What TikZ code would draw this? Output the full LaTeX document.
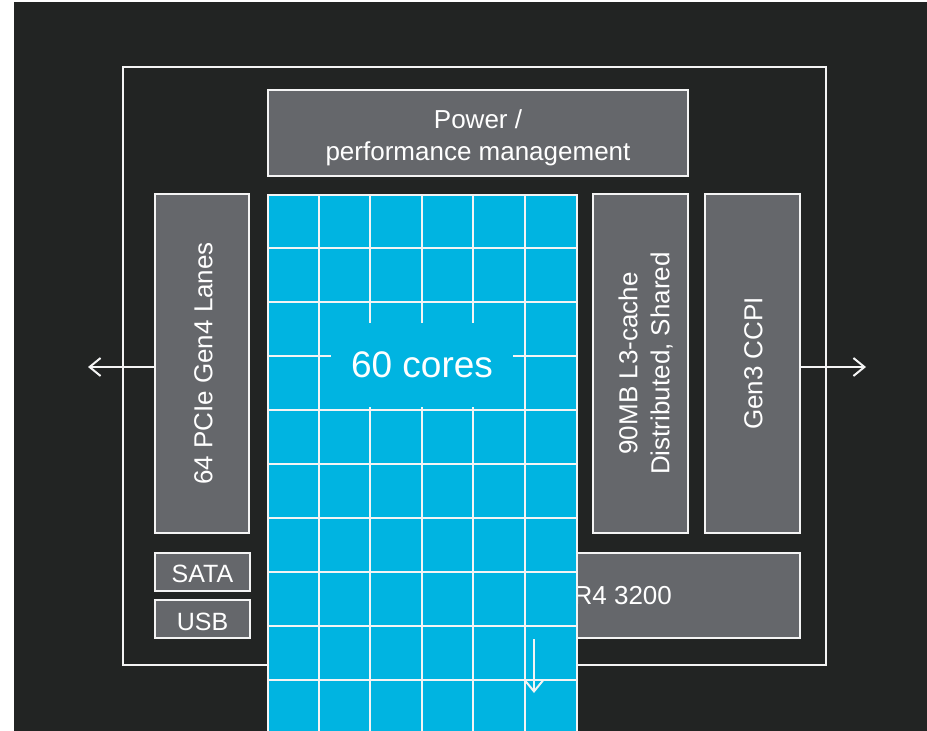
\documentclass[tikz,border=0pt]{standalone}
\usepackage{fontspec}
\usepackage{graphicx}
\setmainfont{Liberation Sans}
\usetikzlibrary{arrows.meta}
\definecolor{bgdark}{RGB}{34,36,35}
\definecolor{blockgrey}{RGB}{101,103,107}
\definecolor{coreblue}{RGB}{0,180,225}
\definecolor{lineclr}{RGB}{244,244,244}

\begin{document}
\begin{tikzpicture}[x=1pt,y=-1pt,
  block/.style={draw=lineclr, line width=2pt, fill=blockgrey, text=white,
    inner sep=0pt, align=center, font=\fontsize{26}{32}\selectfont},
  blocktext/.style={text=white, inner sep=0pt, align=center,
    font=\fontsize{26}{32}\selectfont},
  smallblock/.style={block, font=\fontsize{25}{30}\selectfont, text height=22pt},
  gridline/.style={draw=lineclr, line width=2pt},
  link/.style={draw=lineclr, line width=2pt,
    -{Straight Barb[length=11pt,width=18pt,line width=2pt]}}
]
\useasboundingbox (0,0) rectangle (927,731);
\fill[white] (0,0) rectangle (927,731);
\fill[bgdark] (14,2) rectangle (927,731);

% package outline
\draw[lineclr, line width=2pt] (123,67) rectangle (826,665);

% functional blocks
\node[block, minimum width=420pt, minimum height=85.5pt,
  label={[blocktext, yshift=-4.5pt]center:Power /\\performance management}]
  (power) at (478,133) {};
\node[block, minimum width=94pt, minimum height=339pt,
  label={[blocktext, xshift=1.5pt, rotate=90]center:64 PCIe Gen4 Lanes}]
  (pcie) at (202,363.5) {};
\node[block, minimum width=95pt, minimum height=339.5pt,
  label={[blocktext, xshift=5pt, rotate=90]center:90MB L3-cache\\Distributed, Shared}]
  (l3) at (640.5,363.5) {};
\node[block, minimum width=95pt, minimum height=339.5pt,
  label={[blocktext, xshift=1pt, rotate=90]center:Gen3 CCPI}]
  (ccpi) at (752.5,363.5) {};
\node[block, minimum width=392pt, minimum height=85pt] (ddr) at (604,595.5)
  {DDR4 3200};
\node[smallblock, minimum width=95pt, minimum height=38pt] (sata) at (202.5,572)
  {SATA};
\node[smallblock, minimum width=95pt, minimum height=38.5pt] (usb) at (202.5,619.2)
  {USB};

% core array
\node[draw=lineclr, line width=2pt, fill=coreblue, inner sep=0pt,
  minimum width=309pt, minimum height=560pt, anchor=north west] (cores) at (267,194) {};
\foreach \gx in {318.5,370,421.5,473,524.5}
  \draw[gridline] (\gx,194) -- (\gx,745);
\foreach \gy in {248,302,356,410,464,518,572,626,680}
  \draw[gridline] (267,\gy) -- (576,\gy);
\node[fill=coreblue, inner sep=0pt, minimum width=182pt, minimum height=84pt,
  text=white, font=\fontsize{37}{44}\selectfont] (corelabel) at (422,365) {60 cores};

% external links
\coordinate (pcieout) at (88,367);
\coordinate (ccpiout) at (866,367);
\coordinate (ddrout) at (534,693);
\draw[link] (pcie.west |- pcieout) -- (pcieout);
\draw[link] (ccpi.east |- ccpiout) -- (ccpiout);
\draw[link] (ddr.south -| ddrout) -- (ddrout);
\end{tikzpicture}
\end{document}
